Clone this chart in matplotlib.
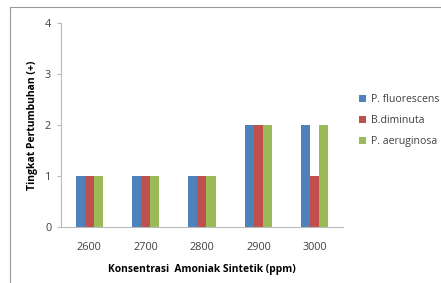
import numpy as np
import matplotlib
matplotlib.use("Agg")
import matplotlib.pyplot as plt
from matplotlib.lines import Line2D

categories = ["2600", "2700", "2800", "2900", "3000"]
series_names = ["P. fluorescens", "B.diminuta", "P. aeruginosa"]
fluorescens = [1, 1, 1, 2, 2]
diminuta = [1, 1, 1, 2, 1]
aeruginosa = [1, 1, 1, 2, 2]
colors = ["#4F81BD", "#C0504D", "#9BBB59"]

plt.rcParams["font.family"] = ["Open Sans", "DejaVu Sans"]

fig = plt.figure(figsize=(4.41, 2.83), dpi=100)
ax = fig.add_axes([0.138, 0.198, 0.640, 0.721])

x = np.arange(len(categories))
w = 0.16
for i, (vals, name) in enumerate(zip([fluorescens, diminuta, aeruginosa], series_names)):
    ax.bar(x + (i - 1) * w, vals, width=w, color=colors[i], label=name)

ax.set_xlim(-0.5, len(categories) - 0.5)
ax.set_ylim(0, 4)
ax.set_yticks([0, 1, 2, 3, 4])
ax.set_xticks(x)
ax.set_xticklabels(categories)
ax.tick_params(axis="x", length=0, labelsize=7.8, colors="#404040", pad=11)
ax.tick_params(axis="y", length=3, labelsize=7.8, colors="#404040", color="#BBBBBB", pad=4)
for s in ["top", "right"]:
    ax.spines[s].set_visible(False)
ax.spines["left"].set_color("#BBBBBB")
ax.spines["bottom"].set_color("#BBBBBB")
ax.spines["left"].set_linewidth(0.8)
ax.spines["bottom"].set_linewidth(0.8)

ax.set_xlabel("Konsentrasi  Amoniak Sintetik (ppm)", fontsize=7.4, fontweight="bold", labelpad=8)
ax.set_ylabel("Tingkat Pertumbuhan (+)", fontsize=7.5, fontweight="bold", labelpad=5)

ax.legend(loc="center left", bbox_to_anchor=(1.03, 0.52), frameon=False, fontsize=7.6,
          handlelength=0.7, handleheight=0.7, handletextpad=0.4, labelspacing=0.95,
          labelcolor="#404040", borderaxespad=0.3)

# outer chart frame
fig.add_artist(Line2D([10 / 441, 10 / 441], [0.0, 1 - 7 / 283], transform=fig.transFigure,
                      color="#999999", linewidth=0.8))
fig.add_artist(Line2D([10 / 441, 1.0], [1 - 7 / 283, 1 - 7 / 283], transform=fig.transFigure,
                      color="#999999", linewidth=0.8))

fig.savefig("out.png", dpi=100)
